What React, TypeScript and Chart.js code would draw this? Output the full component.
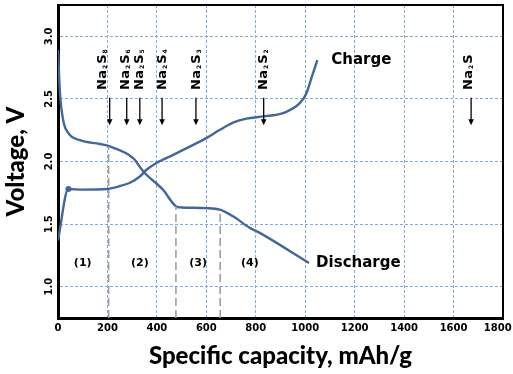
import React, { useEffect, useRef } from 'react';
import { Chart, registerables } from 'chart.js';

Chart.register(...registerables);

// ---- data ----
const chargeCapacity = [0, 42, 100, 200, 244, 291, 331, 358, 400, 466, 547, 600, 655, 708, 762, 832, 910, 978, 1005, 1025, 1049];
const chargeVoltage = [1.37, 1.78, 1.775, 1.78, 1.8, 1.83, 1.88, 1.934, 1.99, 2.053, 2.133, 2.187, 2.253, 2.31, 2.343, 2.36, 2.386, 2.466, 2.545, 2.665, 2.81];
const chargeMarker = [0, 1, 0, 0, 0, 0, 0, 0, 0, 0, 0, 0, 0, 0, 0, 0, 0, 0, 0, 0, 0];

const dischargeCapacity = [0, 8, 21, 42, 89, 170, 210, 304, 345, 425, 479, 500, 600, 655, 708, 776, 816, 1015];
const dischargeVoltage = [2.89, 2.545, 2.33, 2.226, 2.17, 2.14, 2.12, 2.027, 1.92, 1.774, 1.64, 1.633, 1.628, 1.615, 1.562, 1.47, 1.43, 1.19];

const xTicks = [0, 200, 400, 600, 800, 1000, 1200, 1400, 1600, 1800];
const yTicks = [1.0, 1.5, 2.0, 2.5, 3.0];
const yMin = 0.75;
const yMax = 3.25;

const speciesNames = ['Na_2S_8', 'Na_2S_6', 'Na_2S_5', 'Na_2S_4', 'Na_2S_3', 'Na_2S_2', 'Na_2S'];
const speciesCapacity = [209, 278, 331, 421, 558, 832, 1671];
const speciesLabelCapacity = [180, 274, 329, 422, 560, 833, 1660];
const speciesLabelBase = 2.572;
const arrowTop = 2.51;
const arrowTip = 2.29;

const dividerCapacity = [205, 477, 656];
const dividerTop = [2.12, 1.645, 1.615];

const regionLabels = ['(1)', '(2)', '(3)', '(4)'];
const regionCapacity = [100, 331, 567, 776];
const regionVoltage = 1.19;

const curveLabels = ['Charge', 'Discharge'];
const curveLabelCapacity = [1227, 1215];
const curveLabelVoltage = [2.81, 1.19];

const xTitle = 'Specific capacity, mAh/g';
const yTitle = 'Voltage, V';

const TITLE_FONT = 'Lato, "DejaVu Sans", sans-serif';
const FONT = '"DejaVu Sans", Lato, sans-serif';
const LINE_COLOR = '#41679b';
const GRID_COLOR = '#86aad8';

function drawFormula(ctx: CanvasRenderingContext2D, text: string, x: number, y: number) {
  ctx.save();
  ctx.translate(x, y);
  ctx.rotate(-Math.PI / 2);
  ctx.textBaseline = 'middle';
  ctx.textAlign = 'left';
  let pos = 0;
  for (let i = 0; i < text.length; i++) {
    const ch = text[i];
    if (ch === '_') {
      const sub = text[i + 1];
      ctx.font = `bold 6px ${FONT}`;
      ctx.fillText(sub, pos + 0.8, 3);
      pos += ctx.measureText(sub).width + 1.8;
      i++;
    } else {
      ctx.font = `bold 13px ${FONT}`;
      ctx.fillText(ch, pos, 0);
      pos += ctx.measureText(ch).width + 0.2;
    }
  }
  ctx.restore();
}

const annotationPlugin = {
  id: 'annotations',
  beforeDatasetsDraw(chart: any) {
    const { ctx, chartArea } = chart;
    ctx.save();
    ctx.strokeStyle = '#000';
    ctx.lineWidth = 2;
    ctx.beginPath();
    ctx.moveTo(chartArea.left, chartArea.top);
    ctx.lineTo(chartArea.right, chartArea.top);
    ctx.lineTo(chartArea.right, chartArea.bottom);
    ctx.stroke();
    ctx.restore();
  },
  afterDatasetsDraw(chart: any) {
    const { ctx } = chart;
    const xs = chart.scales.x;
    const ys = chart.scales.y;
    ctx.save();
    ctx.fillStyle = '#000';
    ctx.strokeStyle = '#000';
    // species labels + arrows
    speciesNames.forEach((name, i) => {
      const lx = xs.getPixelForValue(speciesLabelCapacity[i]);
      drawFormula(ctx, name, lx, ys.getPixelForValue(speciesLabelBase));
      const px = xs.getPixelForValue(speciesCapacity[i]);
      const yA = ys.getPixelForValue(arrowTop);
      const yB = ys.getPixelForValue(arrowTip);
      ctx.lineWidth = 1.3;
      ctx.beginPath();
      ctx.moveTo(px, yA);
      ctx.lineTo(px, yB - 5);
      ctx.stroke();
      ctx.beginPath();
      ctx.moveTo(px - 2.8, yB - 6);
      ctx.lineTo(px + 2.8, yB - 6);
      ctx.lineTo(px, yB);
      ctx.closePath();
      ctx.fill();
    });
    // region labels
    ctx.textAlign = 'center';
    ctx.textBaseline = 'middle';
    ctx.font = `bold 11px ${FONT}`;
    regionLabels.forEach((t, i) => {
      ctx.fillText(t, xs.getPixelForValue(regionCapacity[i]), ys.getPixelForValue(regionVoltage));
    });
    // curve labels
    ctx.font = `bold 15px ${FONT}`;
    curveLabels.forEach((t, i) => {
      ctx.fillText(t, xs.getPixelForValue(curveLabelCapacity[i]), ys.getPixelForValue(curveLabelVoltage[i]));
    });
    ctx.restore();
  },
};

export default function App() {
  const canvasRef = useRef<HTMLCanvasElement | null>(null);

  useEffect(() => {
    document.body.style.margin = '0';
    const canvas = canvasRef.current;
    if (!canvas) return;

    const dividerSets = dividerCapacity.map((c, i) => ({
      label: 'divider' + i,
      data: [
        { x: c, y: yMin },
        { x: c, y: dividerTop[i] },
      ],
      borderColor: '#a0a0a0',
      borderWidth: 1.6,
      borderDash: [8, 4],
      pointRadius: 0,
      fill: false,
    }));

    const lastTick = xTicks[xTicks.length - 1];

    const chart = new Chart(canvas, {
      type: 'line',
      data: {
        datasets: [
          ...dividerSets,
          {
            label: 'Charge',
            data: chargeCapacity.map((x, i) => ({ x, y: chargeVoltage[i] })),
            borderColor: LINE_COLOR,
            backgroundColor: LINE_COLOR,
            borderWidth: 2.4,
            pointRadius: chargeMarker.map((m) => (m ? 3 : 0)),
            pointBorderWidth: 0,
            cubicInterpolationMode: 'monotone',
            fill: false,
          },
          {
            label: 'Discharge',
            data: dischargeCapacity.map((x, i) => ({ x, y: dischargeVoltage[i] })),
            borderColor: LINE_COLOR,
            borderWidth: 2.4,
            pointRadius: 0,
            cubicInterpolationMode: 'monotone',
            fill: false,
          },
        ] as any,
      },
      options: {
        responsive: false,
        animation: false,
        devicePixelRatio: 1,
        layout: { padding: { top: 5, right: 10, left: 0, bottom: 0 } },
        plugins: {
          legend: { display: false },
          tooltip: { enabled: false },
        },
        scales: {
          x: {
            type: 'linear',
            min: 0,
            max: 1800,
            afterBuildTicks: (s: any) => {
              s.ticks = xTicks.map((v) => ({ value: v }));
            },
            afterFit: (s: any) => {
              s.height = 56;
              s.paddingLeft = 0;
              s.paddingRight = 0;
            },
            ticks: {
              color: '#000',
              padding: 4,
              maxRotation: 0,
              callback: (v: any) => (Number(v) === lastTick ? String(v) + '   ' : String(v)),
              font: { family: FONT, size: 10, weight: 'bold' },
            },
            grid: {
              color: GRID_COLOR,
              lineWidth: 1,
              drawTicks: false,
            },
            border: { display: true, color: '#000', width: 3, dash: [3, 2] },
            title: {
              display: true,
              text: xTitle,
              color: '#000',
              font: { family: TITLE_FONT, size: 24, weight: '900' },
              padding: { top: 0, bottom: 3 },
            },
          },
          y: {
            type: 'linear',
            min: yMin,
            max: yMax,
            afterBuildTicks: (s: any) => {
              s.ticks = yTicks.map((v) => ({ value: v }));
            },
            afterFit: (s: any) => {
              s.width = 58;
              s.paddingTop = 0;
              s.paddingBottom = 0;
            },
            ticks: {
              color: '#000',
              padding: 0,
              minRotation: 90,
              maxRotation: 90,
              crossAlign: 'center',
              callback: (v: any) => Number(v).toFixed(1),
              font: { family: FONT, size: 10, weight: 'bold' },
            },
            grid: {
              color: GRID_COLOR,
              lineWidth: 1,
              drawTicks: false,
            },
            border: { display: true, color: '#000', width: 3, dash: [3, 2] },
            title: {
              display: true,
              text: yTitle,
              color: '#000',
              font: { family: TITLE_FONT, size: 24, weight: '900' },
              padding: { top: 2, bottom: 0 },
            },
          },
        },
      } as any,
      plugins: [annotationPlugin],
    });

    return () => chart.destroy();
  }, []);

  return (
    <div style={{ width: 513, height: 374 }}>
      <canvas ref={canvasRef} width={513} height={374} style={{ width: 513, height: 374, display: 'block' }} />
    </div>
  );
}
